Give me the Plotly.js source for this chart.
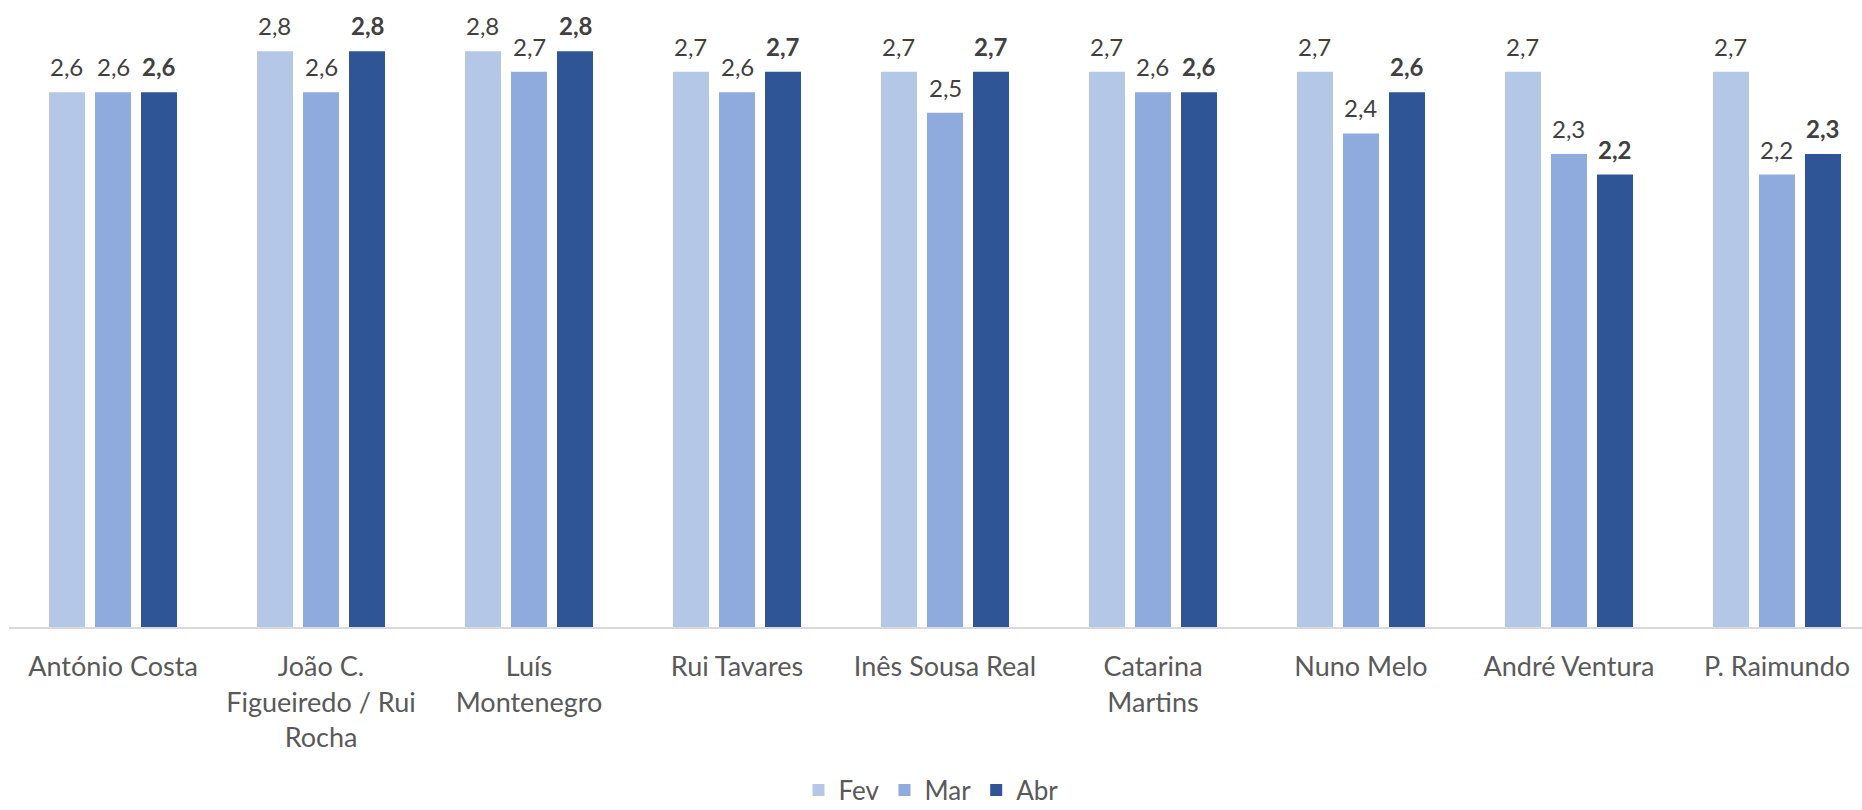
<!DOCTYPE html>
<html>
<head>
<meta charset="utf-8">
<script src="https://cdn.plot.ly/plotly-3.0.1.min.js"></script>
<style>html,body{margin:0;padding:0;background:#fff;}#chart{width:1862px;height:810px;}</style>
</head>
<body>
<div id="chart"></div>
<script>
const categories = [
  "António Costa",
  "João C.<br>Figueiredo / Rui<br>Rocha",
  "Luís<br>Montenegro",
  "Rui Tavares",
  "Inês Sousa Real",
  "Catarina<br>Martins",
  "Nuno Melo",
  "André Ventura",
  "P. Raimundo"
];
const seriesNames = ["Fev", "Mar", "Abr"];
const fev = [2.6, 2.8, 2.8, 2.7, 2.7, 2.7, 2.7, 2.7, 2.7];
const mar = [2.6, 2.6, 2.7, 2.6, 2.5, 2.6, 2.4, 2.3, 2.2];
const abr = [2.6, 2.8, 2.8, 2.7, 2.7, 2.6, 2.6, 2.2, 2.3];
const colors = ["#B4C7E7", "#8FAADC", "#2F5597"];

const FONT = "Lato, 'Open Sans', sans-serif";
const W = 1862, H = 810;
const M = {l: 9, r: 0, t: 10, b: 183};
const XRANGE = [-0.5, 8.4087];
const BARGAP = 0.3365, BARGROUPGAP = 0.2174;

const seriesVals = [fev, mar, abr];
const bold = [false, false, true];

const data = seriesVals.map((vals, i) => ({
  type: "bar",
  name: seriesNames[i],
  x: categories,
  y: vals,
  marker: {color: colors[i], line: {width: 0}},
  hoverinfo: "skip"
}));

// data labels: anchored to each bar through the axes
const catPx = (W - M.l - M.r) / (XRANGE[1] - XRANGE[0]);
const slotPx = catPx * (1 - BARGAP) / seriesVals.length;
const annotations = [];
seriesVals.forEach((vals, i) => {
  vals.forEach((v, j) => {
    const s = v.toFixed(1).replace(".", ",");
    annotations.push({
      xref: "x", yref: "y",
      x: categories[j], y: v,
      text: bold[i] ? "<b>" + s + "</b>" : s,
      showarrow: false,
      xanchor: "center", yanchor: "bottom",
      xshift: (i - (seriesVals.length - 1) / 2) * slotPx,
      yshift: 9,
      font: {family: FONT, size: 24, color: "#404040"}
    });
  });
});

const layout = {
  width: W,
  height: H,
  margin: {l: M.l, r: M.r, t: M.t, b: M.b, pad: 0},
  paper_bgcolor: "#ffffff",
  plot_bgcolor: "#ffffff",
  barmode: "group",
  bargap: BARGAP,
  bargroupgap: BARGROUPGAP,
  font: {family: FONT, color: "#595959"},
  showlegend: true,
  legend: {
    orientation: "h",
    xref: "container", yref: "container",
    x: 0.5, xanchor: "center",
    y: 20 / H, yanchor: "middle",
    font: {family: FONT, size: 26, color: "#595959"},
    itemclick: false
  },
  annotations: annotations,
  xaxis: {
    type: "category",
    range: XRANGE,
    showline: true,
    linecolor: "#D9D9D9",
    linewidth: 2,
    ticks: "",
    showgrid: false,
    zeroline: false,
    tickfont: {family: FONT, size: 27, color: "#595959"},
    tickangle: 0,
    ticklabelstandoff: 15,
    automargin: false
  },
  yaxis: {
    range: [0, 3],
    visible: false,
    showgrid: false,
    zeroline: false,
    fixedrange: true
  }
};

Plotly.newPlot("chart", data, layout, {displayModeBar: false, staticPlot: true});
</script>
</body>
</html>
